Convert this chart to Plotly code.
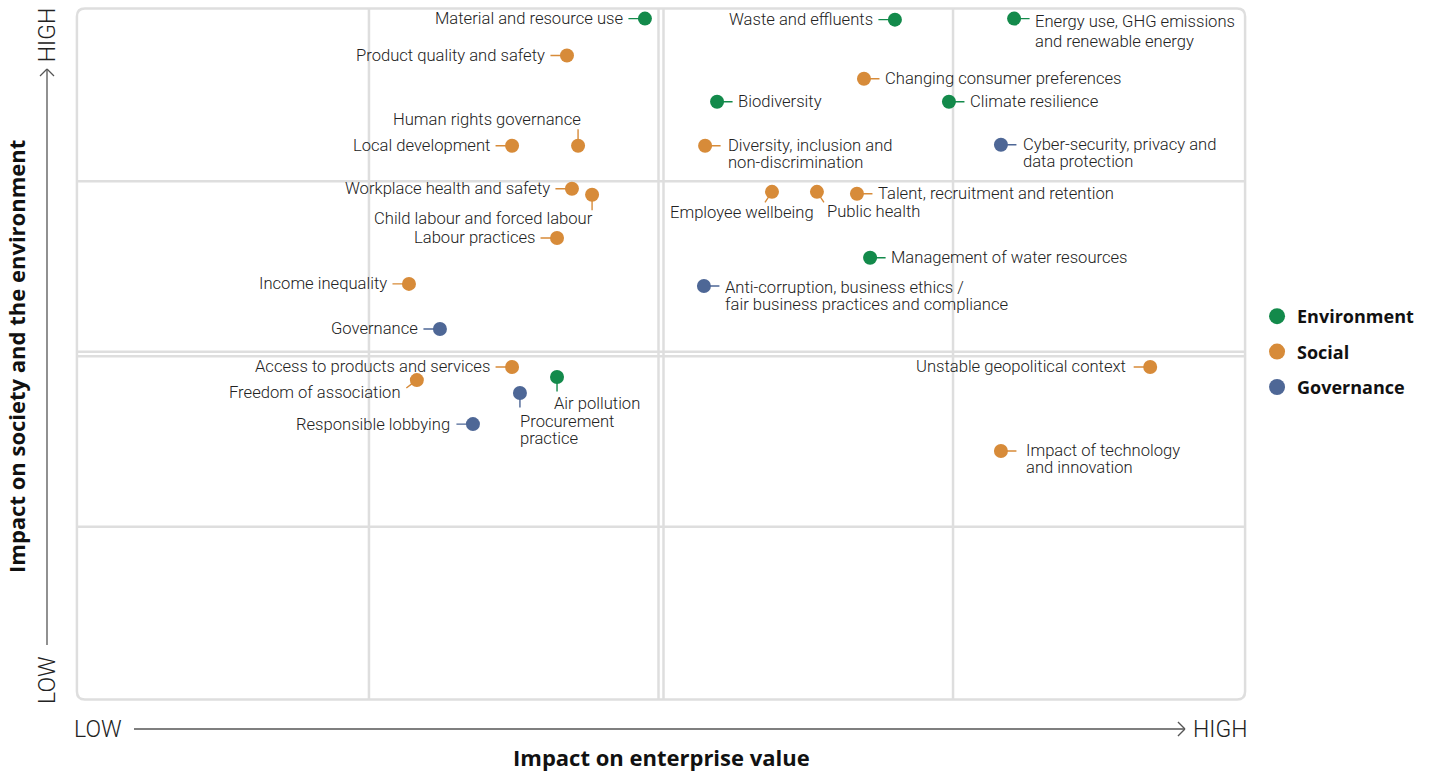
import plotly.graph_objects as go

# ---------------- DATA ----------------
env_names = ["Material and resource use", "Waste and effluents",
             "Energy use, GHG emissions and renewable energy", "Biodiversity",
             "Climate resilience", "Management of water resources", "Air pollution"]
env_x = [1.945, 2.801, 3.209, 2.192, 2.986, 2.716, 1.644]
env_y = [3.942, 3.936, 3.942, 3.461, 3.461, 2.557, 1.867]

soc_names = ["Product quality and safety", "Changing consumer preferences",
             "Human rights governance", "Local development",
             "Diversity, inclusion and non-discrimination",
             "Workplace health and safety", "Child labour and forced labour",
             "Employee wellbeing", "Public health", "Talent, recruitment and retention",
             "Labour practices", "Income inequality", "Access to products and services",
             "Freedom of association", "Unstable geopolitical context",
             "Impact of technology and innovation"]
soc_x = [1.678, 2.695, 1.716, 1.490, 2.151, 1.695, 1.764, 2.380, 2.534, 2.671,
         1.644, 1.137, 1.490, 1.164, 3.675, 3.164]
soc_y = [3.728, 3.594, 3.206, 3.206, 3.206, 2.957, 2.922, 2.939, 2.939, 2.928,
         2.672, 2.406, 1.925, 1.849, 1.925, 1.438]

gov_names = ["Cyber-security, privacy and data protection",
             "Anti-corruption, business ethics / fair business practices and compliance",
             "Governance", "Procurement practice", "Responsible lobbying"]
gov_x = [3.164, 2.147, 1.243, 1.517, 1.356]
gov_y = [3.212, 2.394, 2.145, 1.774, 1.594]

categories = ["Environment", "Social", "Governance"]
x_axis_title = "Impact on enterprise value"
y_axis_title = "Impact on society and the environment"
low_label, high_label = "LOW", "HIGH"

# ---------------- STYLE ----------------
COLORS = {"Environment": "#138A4B", "Social": "#D78B39", "Governance": "#4E6796"}
GRID = "#DEDEDE"
TEXT = "#222222"
AXIS_LINE = "#555555"
LABEL_FONT = dict(family="Roboto", size=16.6, color=TEXT, weight=300)
LINE_GAP = 17

# wrapped display text
display = {
    "Energy use, GHG emissions and renewable energy": ["Energy use, GHG emissions", "and renewable energy"],
    "Diversity, inclusion and non-discrimination": ["Diversity, inclusion and", "non-discrimination"],
    "Cyber-security, privacy and data protection": ["Cyber-security, privacy and", "data protection"],
    "Anti-corruption, business ethics / fair business practices and compliance":
        ["Anti-corruption, business ethics /", "fair business practices and compliance"],
    "Procurement practice": ["Procurement", "practice"],
    "Impact of technology and innovation": ["Impact of technology", "and innovation"],
}

# placement: (leader ax, leader ay, text xshift, first-line offset down (px), xanchor, line gap)
L = (-18, 0, -20, 0, "right", LINE_GAP)
R = (17, 0, 19, 0, "left", LINE_GAP)
place = {
    "Material and resource use": L, "Waste and effluents": L,
    "Energy use, GHG emissions and renewable energy": (17, 0, 19, 3, "left", 19.5),
    "Biodiversity": R, "Climate resilience": R, "Management of water resources": R,
    "Air pollution": (0, 16, -5, 27, "left", LINE_GAP),
    "Product quality and safety": L, "Changing consumer preferences": R,
    "Human rights governance": (0, -18, 5, -26, "right", LINE_GAP),
    "Local development": L,
    "Diversity, inclusion and non-discrimination": (17, 0, 21, 0, "left", LINE_GAP),
    "Workplace health and safety": L,
    "Child labour and forced labour": (0, 17, 3, 24, "right", LINE_GAP),
    "Employee wellbeing": (-8, 12, 44, 21, "right", LINE_GAP),
    "Public health": (8, 12, 8, 20, "left", LINE_GAP),
    "Talent, recruitment and retention": R,
    "Labour practices": L, "Income inequality": L,
    "Access to products and services": L,
    "Freedom of association": (-12, 9, -14, 12, "right", LINE_GAP),
    "Unstable geopolitical context": (-18, 0, -22, 0, "right", LINE_GAP),
    "Impact of technology and innovation": (17, 0, 23, -1, "left", LINE_GAP),
    "Cyber-security, privacy and data protection": (17, 0, 20, 0, "left", LINE_GAP),
    "Anti-corruption, business ethics / fair business practices and compliance":
        (17, 0, 19, 2, "left", LINE_GAP),
    "Governance": L,
    "Procurement practice": (0, 16, -2, 28, "left", LINE_GAP),
    "Responsible lobbying": (-18, 0, -21, 0, "right", LINE_GAP),
}

series = [("Environment", env_names, env_x, env_y),
          ("Social", soc_names, soc_x, soc_y),
          ("Governance", gov_names, gov_x, gov_y)]

fig = go.Figure()
annotations = []
for cat, names, xs, ys in series:
    col = COLORS[cat]
    fig.add_trace(go.Scatter(x=xs, y=ys, mode="markers", name=cat, text=names,
                             marker=dict(size=14, color=col), showlegend=False,
                             hovertemplate="%{text}<extra>" + cat + "</extra>"))
    # legend entry
    fig.add_trace(go.Scatter(x=[None], y=[None], mode="markers", name=cat,
                             marker=dict(size=16, color=col), legendgroup=cat,
                             showlegend=True))
    for n, x, y in zip(names, xs, ys):
        ax, ay, xs_, off, xa, gap = place[n]
        annotations.append(dict(x=x, y=y, xref="x", yref="y", text="", showarrow=True,
                                ax=ax, ay=ay, arrowhead=0, arrowwidth=1.4,
                                arrowcolor=col, standoff=6))
        for i, line in enumerate(display.get(n, [n])):
            annotations.append(dict(x=x, y=y, xref="x", yref="y", text=line,
                                    showarrow=False, xshift=xs_, yshift=-(off + i * gap),
                                    xanchor=xa, yanchor="middle", align="left",
                                    font=LABEL_FONT))

# ---------------- GRID / PANELS ----------------
px_x = 292.0   # pixels per x unit
px_y = 172.5   # pixels per y unit
rx, ry = 8 / px_x, 8 / px_y
outer = (f"M {rx},0 L {4-rx},0 Q 4,0 4,{ry} L 4,{4-ry} Q 4,4 {4-rx},4 "
         f"L {rx},4 Q 0,4 0,{4-ry} L 0,{ry} Q 0,0 {rx},0 Z")
shapes = [dict(type="path", path=outer, xref="x", yref="y",
               line=dict(color=GRID, width=2.5), layer="below")]
gx, gy = 2.5 / px_x, 2.2 / px_y
for xv in [1, 3, 2 - gx, 2 + gx]:
    shapes.append(dict(type="line", x0=xv, x1=xv, y0=0, y1=4, xref="x", yref="y",
                       line=dict(color=GRID, width=2.5), layer="below"))
for yv in [1, 3, 2 - gy, 2 + gy]:
    shapes.append(dict(type="line", x0=0, x1=4, y0=yv, y1=yv, xref="x", yref="y",
                       line=dict(color=GRID, width=2.5), layer="below"))

# ---------------- AXIS ARROWS (paper coords) ----------------
PW, PH = 1174.0, 696.0          # plot area size in px
cx, cy = 7 / PW, 7 / PH         # chevron half-size
xa_y = -0.0388
x0a, x1a = 0.0511, 0.9463
ya_x = -0.0230
y0a, y1a = 0.0819, 0.9095
arrow_line = dict(color=AXIS_LINE, width=1.3)
for seg in [
    (x0a, xa_y, x1a, xa_y), (x1a - cx, xa_y + cy, x1a, xa_y), (x1a - cx, xa_y - cy, x1a, xa_y),
    (ya_x, y0a, ya_x, y1a), (ya_x - cx, y1a - cy, ya_x, y1a), (ya_x + cx, y1a - cy, ya_x, y1a),
]:
    shapes.append(dict(type="line", xref="paper", yref="paper", x0=seg[0], y0=seg[1],
                       x1=seg[2], y1=seg[3], line=arrow_line))

AX_FONT = dict(family="Roboto", size=23, color=TEXT, weight=300)
TITLE_FONT = dict(family="Open Sans", size=22, color="#111111", weight=700)
annotations += [
    dict(x=0.0204, y=xa_y, xref="paper", yref="paper", text=low_label, showarrow=False,
         xanchor="center", yanchor="middle", font=AX_FONT),
    dict(x=0.9762, y=xa_y, xref="paper", yref="paper", text=high_label, showarrow=False,
         xanchor="center", yanchor="middle", font=AX_FONT),
    dict(x=ya_x, y=0.958, xref="paper", yref="paper", text=high_label, showarrow=False,
         textangle=-90, xanchor="center", yanchor="middle", font=AX_FONT),
    dict(x=ya_x, y=0.0316, xref="paper", yref="paper", text=low_label, showarrow=False,
         textangle=-90, xanchor="center", yanchor="middle", font=AX_FONT),
    dict(x=0.5, y=-0.079, xref="paper", yref="paper", text=x_axis_title, showarrow=False,
         xanchor="center", yanchor="middle", font=TITLE_FONT),
    dict(x=-0.0494, y=0.4957, xref="paper", yref="paper", text=y_axis_title,
         showarrow=False, textangle=-90, xanchor="center", yanchor="middle",
         font=TITLE_FONT),
]

fig.update_layout(
    width=1430, height=772,
    margin=dict(l=74, r=182, t=6, b=70),
    paper_bgcolor="white", plot_bgcolor="white",
    xaxis=dict(range=[-0.01, 4.01], visible=False, fixedrange=True),
    yaxis=dict(range=[-0.015, 4.015], visible=False, fixedrange=True),
    shapes=shapes, annotations=annotations,
    legend=dict(x=1.0077, xanchor="left", y=0.5805, yanchor="top",
                font=dict(family="Open Sans", size=18, color="#111111", weight=700),
                tracegroupgap=9, itemsizing="trace", bgcolor="rgba(0,0,0,0)"),
)

fig.write_html("out.html", config={"displayModeBar": False},
               post_script="document.body.style.margin='0';")
